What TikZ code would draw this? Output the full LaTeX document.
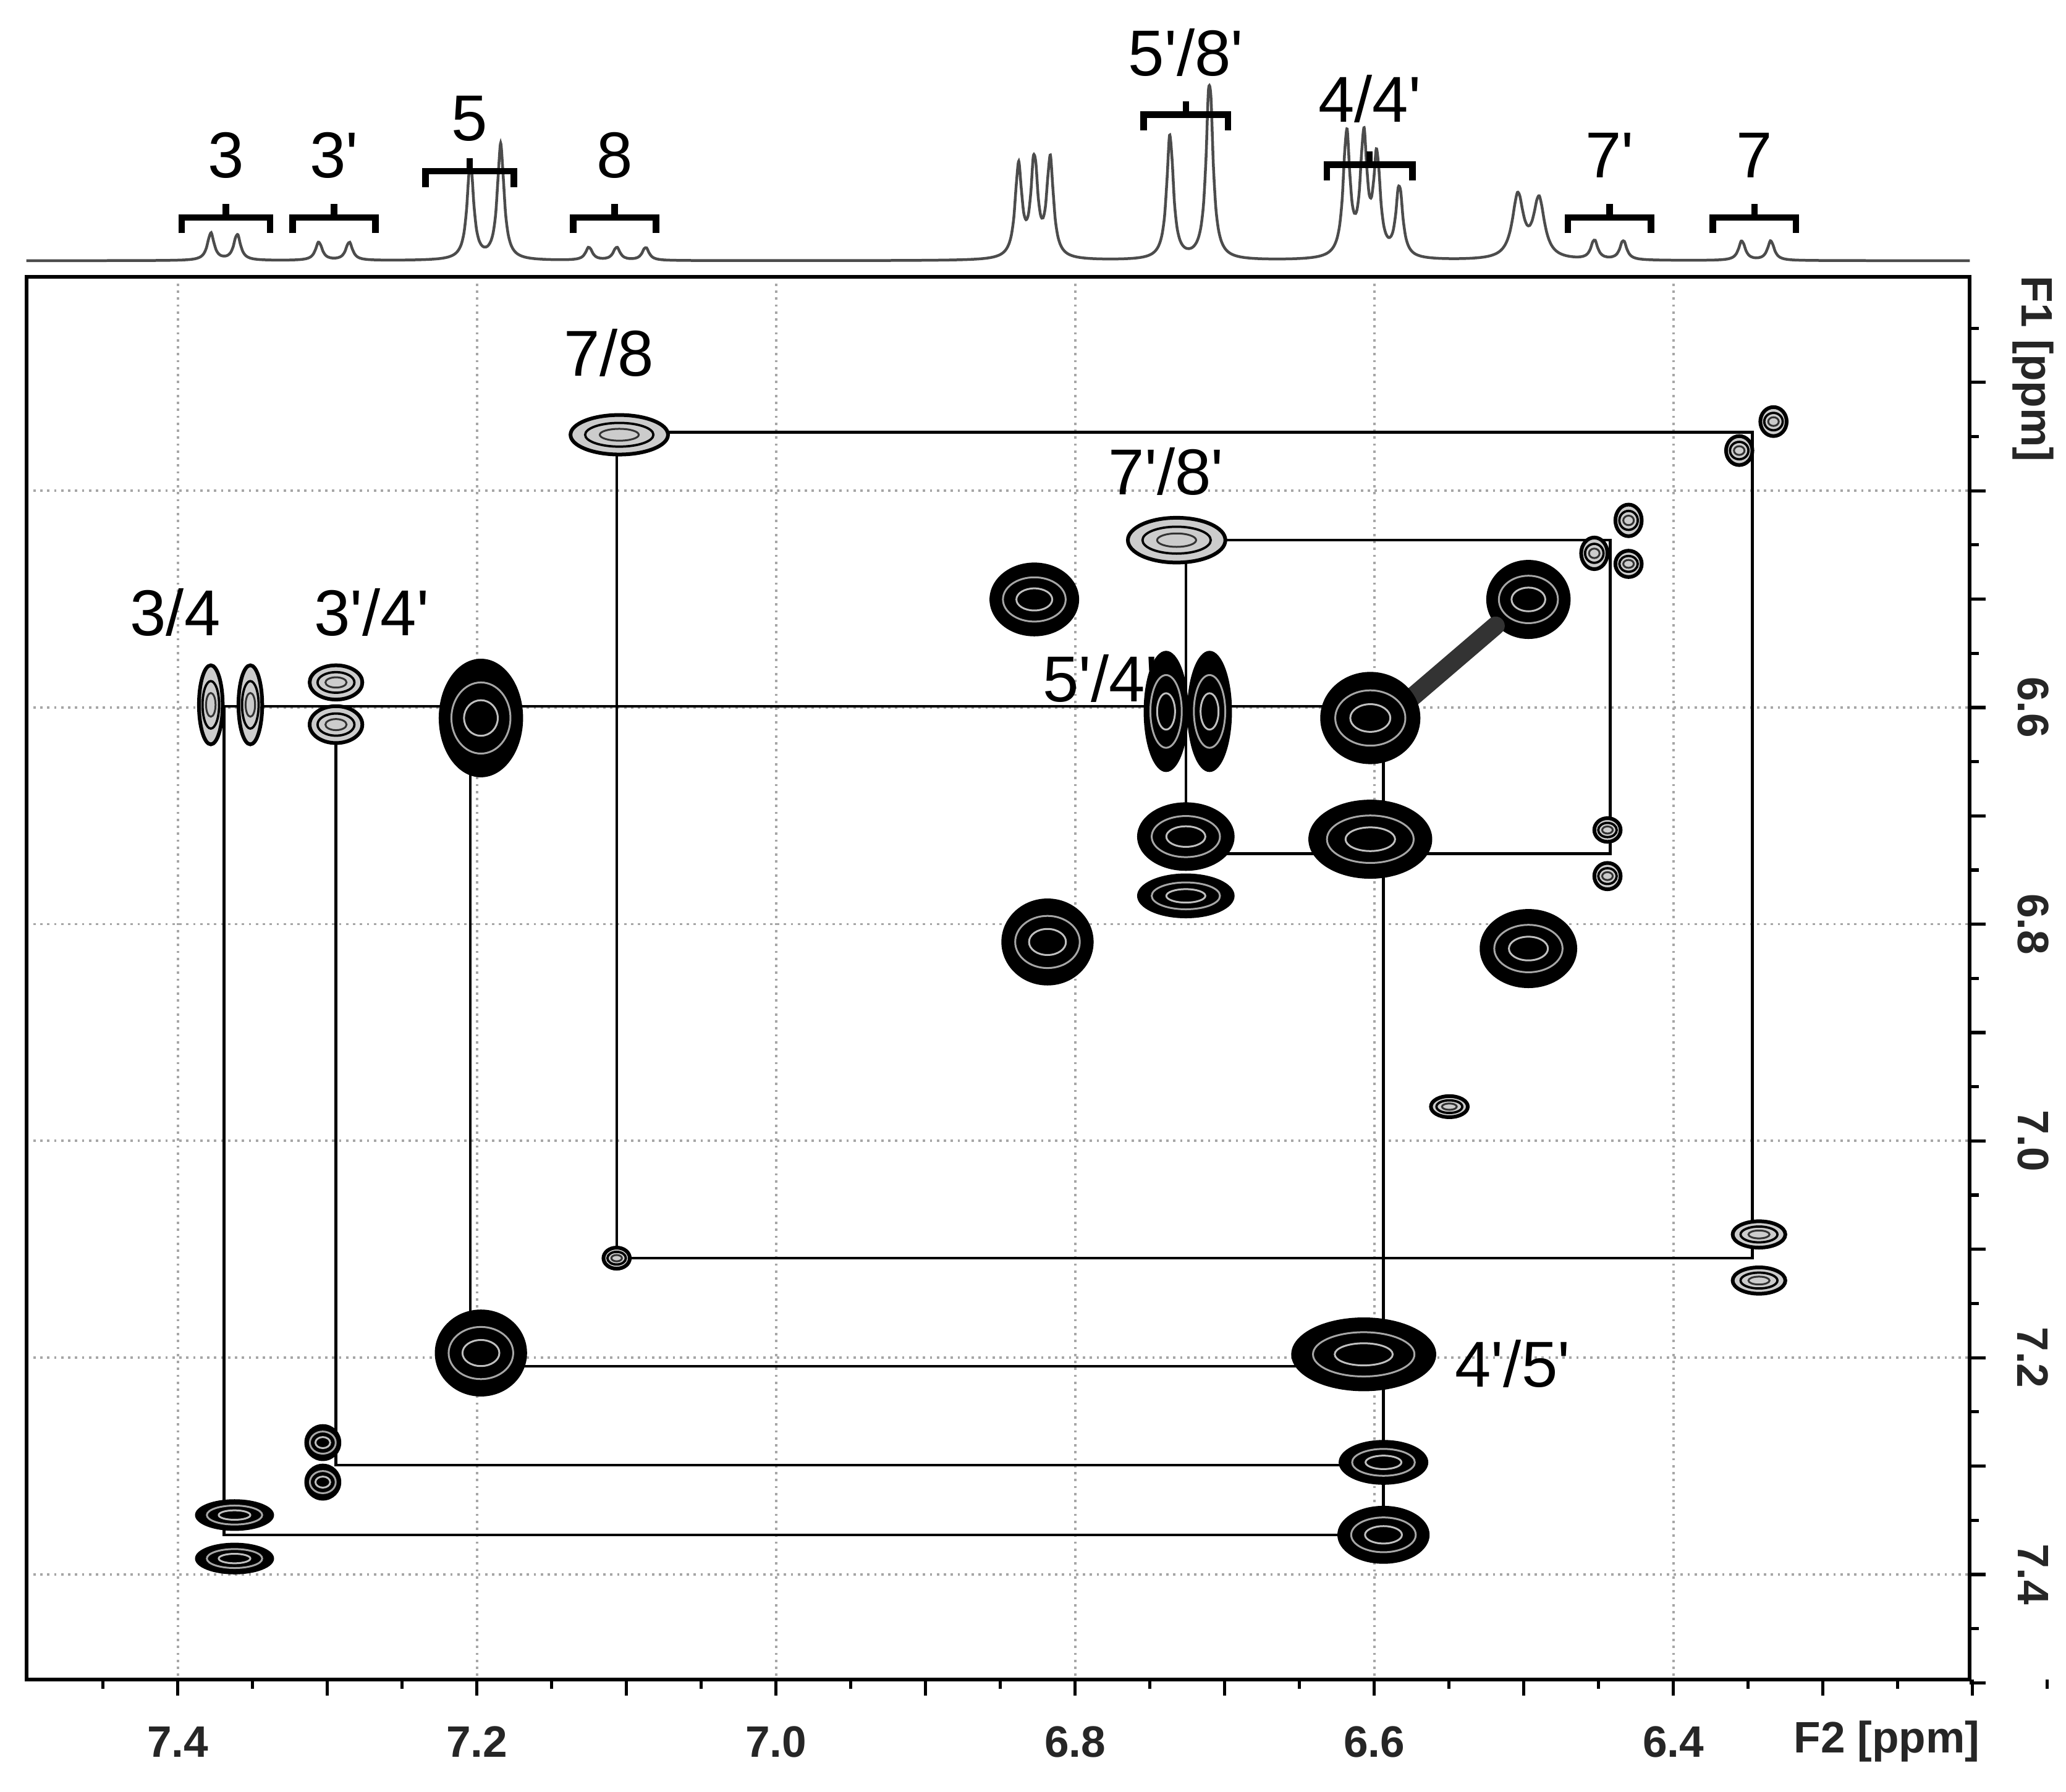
\documentclass[tikz,border=0pt]{standalone}
\usepackage{fontspec}
\setmainfont[Ligatures=TeXOff]{Liberation Sans}
\begin{document}
\begin{tikzpicture}[x=0.01cm,y=-0.01cm,
  declare function={L(\u,\c,\h,\w)=\h/(1+(min(abs(\u-\c),300)/\w)^2);},
  lab/.style={font=\fontsize{14}{14}\selectfont,inner sep=0pt},
  tl/.style={font=\bfseries\fontsize{9.5}{10}\selectfont,inner sep=0pt,text=black!85},
  grid/.style={gray!70,densely dotted,line width=0.5pt},
  conn/.style={black,line width=0.6pt},
  br/.style={black,line width=1.4pt}]
\useasboundingbox (0,0) rectangle (1568,1360);
% 1D spectrum
\draw[gray!60!black,line width=0.6pt] plot[domain=20:1495,samples=800,smooth] (\x,{198
 -L(\x,160,21,3)-L(\x,180,20,3)
 -L(\x,242,14,3)-L(\x,265,14,3)
 -L(\x,357,73,3)-L(\x,380,88,3)
 -L(\x,447,10,3)-L(\x,468,10,3)-L(\x,490,10,3)
 -L(\x,773,70,3)-L(\x,785,75,3)-L(\x,797,75,3)
 -L(\x,888,95,3)-L(\x,918,138,3)
 -L(\x,1022,95,3)-L(\x,1035,90,3)-L(\x,1045,75,3)-L(\x,1062,55,3)
 -L(\x,1152,48,5)-L(\x,1168,45,5)
 -L(\x,1210,15,3)-L(\x,1232,15,3)
 -L(\x,1322,15,3)-L(\x,1344,15,3)});
% brackets
\foreach \a/\b/\yy/\t/\ly/\nm in {138/205/165/{3}/118/b1,222/285/165/{3'}/118/b2,323/390/130/{5}/90/b3,435/498/165/{8}/118/b4,868/932/87/{5'/8'}/40/b5,1007/1072/125/{4/4'}/75/b6,1190/1253/165/{7'}/118/b7,1300/1363/165/{7}/118/b8}{
  \draw[br] (\a,\yy+12) -- (\a,\yy) -- (\b,\yy) -- (\b,\yy+12);
  \draw[br] ({(\a+\b)/2},\yy) -- ({(\a+\b)/2},\yy-10);
  \node[lab] (\nm) at ({(\a+\b)/2},\ly) {\t};
}
% grid
\foreach \p in {7.4,7.2,7.0,6.8,6.6,6.4} \draw[grid] ({135+(7.4-\p)*1135},210) -- ({135+(7.4-\p)*1135},1275);
\foreach \p in {6.4,6.6,6.8,7.0,7.2,7.4} \draw[grid] (20,{537+(\p-6.6)*822.5}) -- (1495,{537+(\p-6.6)*822.5});
% frame
\draw[line width=0.8pt] (20,210) rectangle (1495,1275);
\foreach \i in {0,...,26}{\pgfmathsetmacro\xx{135+(7.4-(7.45-\i*0.05))*1135}
  \pgfmathsetmacro\len{mod(\i,2)==1?12:7}
  \draw[line width=0.7pt] (\xx,1275) -- (\xx,1275+\len);}
\foreach \i in {0,...,25}{\pgfmathsetmacro\yy{537+((6.25+\i*0.05)-6.6)*822.5}
  \pgfmathsetmacro\len{mod(\i,2)==1?12:7}
  \draw[line width=0.7pt] (1495,\yy) -- (1495+\len,\yy);}
\foreach \p in {7.4,7.2,7.0,6.8,6.6,6.4} \node[tl] at ({135+(7.4-\p)*1135},1322) {\p};
\foreach \p in {6.6,6.8,7.0,7.2,7.4} \node[tl,rotate=-90] at (1543,{537+(\p-6.6)*822.5}) {\p};
\node[tl] (f2) at (1432,1322) {F2 [ppm]};
\node[tl,rotate=-90] (f1) at (1543,280) {F1 [ppm]};
% connectors
\coordinate (a1) at (468,328); \coordinate (a2) at (1330,328); \coordinate (a3) at (1330,955); \coordinate (a4) at (468,955);
\draw[conn] (a1) -- (a2) -- (a3) -- (a4) -- cycle;
\coordinate (c1) at (900,410); \coordinate (c2) at (1222,410); \coordinate (c3) at (1222,648); \coordinate (c4) at (900,648);
\draw[conn] (c1) -- (c2) -- (c3) -- (c4) -- cycle;
\coordinate (h0) at (170,536); \coordinate (h1) at (1050,536);
\draw[conn] (h0) -- (h1);
\draw[conn] (170,536) -- (170,1165) -- (1050,1165);
\draw[conn] (255,536) -- (255,1112) -- (1050,1112);
\draw[conn] (357,536) -- (357,1037) -- (1050,1037);
\draw[conn] (h1) -- (1050,1165);
% cross peaks
\newcommand\pk[4]{\fill[black] (#1,#2) ellipse [x radius=#3,y radius=#4];
  \draw[gray!70,line width=0.4pt] (#1,#2) ellipse [x radius=#3*0.7,y radius=#4*0.6];
  \draw[gray!50,line width=0.4pt] (#1,#2) ellipse [x radius=#3*0.4,y radius=#4*0.3];}
\newcommand\pg[4]{\fill[gray!40] (#1,#2) ellipse [x radius=#3,y radius=#4];
  \draw[black,line width=0.8pt] (#1,#2) ellipse [x radius=#3,y radius=#4];
  \draw[black,line width=0.5pt] (#1,#2) ellipse [x radius=#3*0.7,y radius=#4*0.6];
  \draw[black!80,line width=0.4pt] (#1,#2) ellipse [x radius=#3*0.4,y radius=#4*0.3];}
\pg{470}{330}{37}{15}
\pg{1320}{342}{10}{11}\pg{1346}{320}{10}{11}
\pg{893}{410}{37}{17}
\pg{1236}{395}{10}{12}\pg{1210}{420}{10}{12}\pg{1236}{428}{10}{10}
\pk{785}{455}{34}{28}
\pk{1160}{455}{32}{30}
\pg{160}{535}{9}{30}\pg{190}{535}{9}{30}
\pg{255}{518}{20}{13}\pg{255}{550}{20}{14}
\pk{365}{545}{32}{45}
\pk{885}{540}{17}{46}\pk{918}{540}{17}{46}
\draw[black!80,line width=4pt,line cap=round] (1065,535) -- (1135,475);
\pk{1040}{545}{38}{35}
\pk{900}{635}{37}{26}\pk{900}{680}{37}{17}
\pk{1040}{637}{47}{30}
\pg{1220}{630}{10}{9}\pg{1220}{665}{10}{10}
\pk{795}{715}{35}{33}
\pk{1160}{720}{37}{30}
\pg{1100}{840}{14}{8}
\pg{468}{955}{10}{8}
\pg{1335}{937}{20}{10}\pg{1335}{972}{20}{10}
\pk{365}{1027}{35}{33}
\pk{1035}{1028}{55}{28}
\pk{1050}{1110}{34}{17}
\pk{245}{1095}{14}{14}\pk{245}{1125}{14}{14}
\pk{1050}{1165}{35}{22}
\pk{178}{1150}{30}{12}\pk{178}{1183}{30}{12}
% labels
\node[lab] (l78) at (462,268) {7/8};
\node[lab] (l78p) at (885,358) {7'/8'};
\node[lab] (l34) at (133,465) {3/4};
\node[lab] (l34p) at (282,465) {3'/4'};
\node[lab] (l54p) at (835,515) {5'/4'};
\node[lab] (l45p) at (1148,1035) {4'/5'};
\end{tikzpicture}
\end{document}
